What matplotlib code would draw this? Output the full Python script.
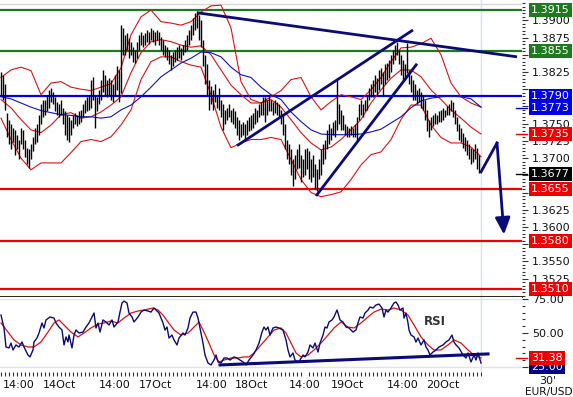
import numpy as np
import matplotlib
matplotlib.use('Agg')
import matplotlib.pyplot as plt
from matplotlib.ticker import MultipleLocator, FixedLocator, FuncFormatter
import matplotlib.transforms as mtransforms

# ---------------- data (EUR/USD 30') ----------------
highs = [
1.3825,1.3821,1.3807,1.3766,1.3756,1.3749,1.3744,1.3741,1.3734,1.3727,
1.3744,1.3741,1.3727,1.3715,1.3713,1.3720,1.3730,1.3744,1.3749,1.3763,
1.3778,1.3785,1.3785,1.3792,1.3799,1.3802,1.3796,1.3788,1.3782,1.3778,
1.3785,1.3773,1.3768,1.3763,1.3759,1.3756,1.3763,1.3766,1.3763,1.3768,
1.3770,1.3778,1.3785,1.3788,1.3792,1.3814,1.3818,1.3792,1.3788,1.3799,
1.3814,1.3828,1.3821,1.3814,1.3817,1.3814,1.3807,1.3821,1.3833,1.3828,
1.3893,1.3889,1.3879,1.3882,1.3875,1.3869,1.3862,1.3857,1.3869,1.3879,
1.3883,1.3879,1.3882,1.3886,1.3883,1.3889,1.3886,1.3883,1.3886,1.3883,
1.3876,1.3872,1.3864,1.3862,1.3857,1.3850,1.3854,1.3857,1.3862,1.3864,
1.3860,1.3864,1.3872,1.3879,1.3886,1.3893,1.3904,1.3911,1.3914,1.3908,
1.3901,1.3872,1.3850,1.3836,1.3814,1.3804,1.3799,1.3807,1.3792,1.3802,
1.3785,1.3778,1.3770,1.3773,1.3778,1.3770,1.3773,1.3768,1.3759,1.3756,
1.3749,1.3753,1.3749,1.3756,1.3759,1.3763,1.3766,1.3773,1.3770,1.3778,
1.3782,1.3788,1.3789,1.3785,1.3788,1.3785,1.3782,1.3785,1.3781,1.3778,
1.3770,1.3763,1.3749,1.3727,1.3720,1.3713,1.3698,1.3705,1.3713,1.3720,
1.3705,1.3698,1.3713,1.3715,1.3710,1.3698,1.3705,1.3691,1.3684,1.3698,
1.3713,1.3720,1.3727,1.3741,1.3749,1.3744,1.3753,1.3756,1.3814,1.3778,
1.3770,1.3763,1.3749,1.3746,1.3744,1.3747,1.3744,1.3749,1.3759,1.3778,
1.3785,1.3778,1.3785,1.3792,1.3802,1.3807,1.3814,1.3821,1.3817,1.3828,
1.3831,1.3825,1.3836,1.3838,1.3843,1.3850,1.3857,1.3864,1.3869,1.3857,
1.3850,1.3843,1.3836,1.3867,1.3828,1.3821,1.3814,1.3807,1.3799,1.3802,
1.3796,1.3792,1.3785,1.3770,1.3756,1.3759,1.3763,1.3766,1.3763,1.3768,
1.3770,1.3773,1.3770,1.3776,1.3779,1.3785,1.3782,1.3770,1.3759,1.3749,
1.3744,1.3737,1.3730,1.3727,1.3720,1.3715,1.3713,1.3720,1.3715,1.3705]
lows = [
1.3792,1.3785,1.3770,1.3731,1.3720,1.3713,1.3724,1.3705,1.3713,1.3698,
1.3720,1.3713,1.3701,1.3691,1.3686,1.3698,1.3710,1.3720,1.3724,1.3734,
1.3749,1.3759,1.3763,1.3768,1.3773,1.3782,1.3778,1.3768,1.3763,1.3759,
1.3763,1.3749,1.3734,1.3727,1.3723,1.3734,1.3744,1.3749,1.3747,1.3749,
1.3753,1.3759,1.3766,1.3768,1.3770,1.3773,1.3785,1.3744,1.3768,1.3778,
1.3785,1.3796,1.3792,1.3788,1.3792,1.3785,1.3781,1.3792,1.3799,1.3781,
1.3795,1.3850,1.3850,1.3857,1.3846,1.3850,1.3840,1.3838,1.3846,1.3857,
1.3864,1.3862,1.3864,1.3869,1.3866,1.3872,1.3869,1.3864,1.3872,1.3864,
1.3857,1.3850,1.3847,1.3843,1.3836,1.3828,1.3833,1.3840,1.3843,1.3846,
1.3843,1.3850,1.3854,1.3857,1.3864,1.3872,1.3879,1.3886,1.3889,1.3872,
1.3862,1.3833,1.3807,1.3792,1.3770,1.3778,1.3770,1.3781,1.3773,1.3770,
1.3760,1.3741,1.3749,1.3756,1.3759,1.3753,1.3749,1.3744,1.3734,1.3727,
1.3730,1.3734,1.3727,1.3734,1.3739,1.3741,1.3744,1.3750,1.3753,1.3759,
1.3763,1.3763,1.3753,1.3763,1.3768,1.3768,1.3763,1.3766,1.3763,1.3759,
1.3749,1.3734,1.3713,1.3698,1.3691,1.3676,1.3659,1.3669,1.3684,1.3686,
1.3665,1.3672,1.3676,1.3684,1.3669,1.3665,1.3672,1.3655,1.3652,1.3669,
1.3676,1.3691,1.3698,1.3713,1.3720,1.3727,1.3734,1.3730,1.3741,1.3749,
1.3741,1.3741,1.3734,1.3731,1.3731,1.3733,1.3730,1.3731,1.3727,1.3756,
1.3763,1.3760,1.3768,1.3770,1.3785,1.3788,1.3789,1.3796,1.3792,1.3799,
1.3807,1.3792,1.3807,1.3814,1.3817,1.3825,1.3836,1.3843,1.3850,1.3836,
1.3821,1.3814,1.3817,1.3824,1.3807,1.3796,1.3785,1.3785,1.3778,1.3781,
1.3773,1.3770,1.3756,1.3739,1.3731,1.3741,1.3746,1.3749,1.3749,1.3752,
1.3753,1.3756,1.3759,1.3762,1.3763,1.3768,1.3759,1.3749,1.3739,1.3727,
1.3724,1.3715,1.3710,1.3705,1.3698,1.3691,1.3695,1.3698,1.3684,1.3679]

band_x = list(range(0, 241, 5))
upper_band = [1.3817,1.3828,1.3832,1.3827,1.3792,1.3809,1.3811,1.3803,1.3800,1.3798,
              1.3803,1.3808,1.3831,1.3879,1.3905,1.3915,1.3898,1.3896,1.3893,1.3898,
              1.3912,1.3921,1.3922,1.3889,1.3811,1.3785,1.3780,1.3789,1.3798,1.3814,
              1.3817,1.3789,1.3770,1.3782,1.3792,1.3789,1.3785,1.3799,1.3817,1.3840,
              1.3860,1.3861,1.3866,1.3874,1.3850,1.3809,1.3789,1.3780,1.3774]
middle_band = [1.3785,1.3773,1.3756,1.3741,1.3737,1.3748,1.3763,1.3766,1.3758,1.3760,
               1.3767,1.3777,1.3789,1.3824,1.3853,1.3869,1.3872,1.3869,1.3864,1.3861,
               1.3863,1.3850,1.3828,1.3806,1.3792,1.3780,1.3780,1.3785,1.3774,1.3756,
               1.3737,1.3722,1.3712,1.3716,1.3727,1.3741,1.3756,1.3780,1.3799,1.3816,
               1.3828,1.3828,1.3818,1.3799,1.3785,1.3770,1.3758,1.3745,1.3735]
lower_band = [1.3758,1.3727,1.3700,1.3683,1.3693,1.3693,1.3693,1.3708,1.3724,1.3727,
              1.3724,1.3731,1.3748,1.3770,1.3814,1.3840,1.3847,1.3847,1.3840,1.3835,
              1.3832,1.3792,1.3745,1.3715,1.3722,1.3727,1.3727,1.3730,1.3727,1.3698,
              1.3669,1.3650,1.3644,1.3647,1.3651,1.3669,1.3690,1.3705,1.3709,1.3727,
              1.3756,1.3777,1.3777,1.3748,1.3730,1.3722,1.3722,1.3716,1.3702]
ma_blue = [1.3789,1.3786,1.3780,1.3774,1.3769,1.3766,1.3763,1.3762,1.3760,1.3760,
           1.3758,1.3760,1.3770,1.3777,1.3789,1.3803,1.3818,1.3828,1.3838,1.3845,
           1.3854,1.3853,1.3847,1.3832,1.3821,1.3817,1.3803,1.3792,1.3785,1.3767,
           1.3753,1.3741,1.3735,1.3734,1.3734,1.3734,1.3735,1.3738,1.3742,1.3751,
           1.3760,1.3773,1.3783,1.3787,1.3789,1.3790,1.3789,1.3786,1.3774]

green_levels = [1.3915, 1.3855]
blue_levels = [1.3790]
red_levels = [1.3655, 1.3580, 1.3510]
last_price = 1.3677
ma_last = 1.3773
mid_last = 1.3735

trend_down_x, trend_down_y = [98, 258], [1.3911, 1.3847]
chan_up_x, chan_up_y = [118, 206], [1.3718, 1.3886]
chan_lo_x, chan_lo_y = [157.5, 208], [1.3645, 1.3837]
fc_x, fc_y = [240, 248, 251.5], [1.3680, 1.3722, 1.3589]

rsi_x = [0,1.5,2.5,4,5,6,7.5,9,10.5,11.5,13.5,14.5,16,16.5,18,19,20.5,21.5,22.5,24.5,
         26.5,27.5,29,30.5,31.5,32.5,33.5,34,35.5,36.5,37.5,39,41,42.5,44,45.5,46.5,47.5,48.5,49.5,
         51,52.5,54,55.5,56.5,58.5,59.5,60.5,61.5,63,64,65.5,66.5,68.5,70,71.5,73.5,75,76.5,77.5,
         79,81,82,83,84,85.5,86.5,88,89,91,92,93.5,94.5,96,97.5,98.5,99.5,101,102,103.5,
         105,106.5,107.5,108.5,110,111.5,113,114.5,116.5,118,119.5,121,122.5,124,126,127.5,129,130.5,131.5,132.5,
         133.5,134.5,136,137.5,139,141,142.5,143.5,144.5,146,147,148.5,149.5,151,152,153.5,154.5,156,157,158.5,
         159.5,161,162,163,164,165.5,166.5,168,168.5,169.5,171,172.5,174,176,177.5,178.5,179.5,181,182,183.5,
         184.5,186,187.5,189,190.5,191.5,192.5,193.5,195,196.5,197.5,198.5,199.5,201,201.5,202.5,203.5,204,205,206.5,
         207.5,208.5,210,211.5,212.5,213.5,214.5,216,217.5,219,221,222.5,224,225.5,226.5,227.5,229,231,232.5,233.5,
         235,236.5,237.5,238.5,240]
rsi_val = [63.2,53.7,39.7,39.0,42.6,37.5,41.2,39.7,43.4,39.7,33.8,32.4,37.5,43.4,46.3,50.0,57.4,53.7,59.6,61.8,
           61.0,57.4,54.4,52.2,41.2,47.1,43.4,48.5,39.0,48.5,52.2,50.0,50.7,54.4,57.4,61.8,64.7,53.7,57.4,50.7,
           59.6,58.1,55.9,59.6,54.4,58.1,65.4,72.1,73.5,72.1,64.7,61.8,58.1,61.8,65.4,66.9,66.2,65.4,68.4,66.9,
           64.7,57.4,52.2,54.4,46.3,48.5,44.9,41.2,46.3,50.0,48.5,53.7,61.0,65.4,65.4,61.0,53.7,42.6,33.8,27.9,
           26.5,30.1,33.8,28.7,27.9,31.6,31.6,30.1,32.4,31.6,30.1,28.7,26.5,30.1,33.8,37.5,42.6,50.7,54.4,52.2,
           54.4,48.5,53.7,54.4,53.7,52.2,44.9,37.5,32.4,35.3,30.1,28.7,30.1,33.8,32.4,36.0,41.2,39.0,42.6,36.0,
           42.6,48.5,54.4,53.7,58.1,59.6,61.8,66.9,64.7,59.6,58.1,54.4,53.7,50.7,52.2,57.4,61.8,61.0,64.7,66.9,
           69.1,68.4,70.6,71.3,68.4,61.8,66.9,65.4,68.4,72.1,72.8,70.6,66.9,68.4,61.0,64.7,57.4,52.2,48.5,47.1,
           43.4,46.3,41.2,44.9,39.7,37.5,33.8,36.0,37.5,39.7,41.2,43.4,44.9,48.5,43.4,41.2,39.0,33.8,31.6,35.3,
           28.7,33.8,30.1,35.3,27.9]
sig_x = [0,3.5,6.5,10,13.5,16.5,20,23.5,26.5,29,31.5,35,38.5,41.5,45,48.5,51.5,55,58.5,61.5,
         65,68.5,71.5,76,78.5,81,83.5,86.5,90,93.5,96.5,99,101.5,104,106.5,109,111.5,115,118.5,121.5,
         124,126.5,130,133.5,136.5,140,142.5,145,147.5,150,153.5,156.5,160,163.5,166.5,170,173.5,176.5,180,183.5,
         186.5,190,193.5,196.5,200,203.5,206.5,210,213.5,216.5,220,223.5,226.5,230,233.5,236.5,240]
sig_val = [57.4,50.7,44.9,41.2,39.7,39.7,43.4,50.7,57.4,59.6,55.9,50.7,47.1,50.0,53.7,56.6,57.4,58.8,57.4,61.0,
           64.7,66.2,66.9,68.4,66.9,63.2,58.1,52.2,48.5,50.0,54.4,58.1,50.7,42.6,33.8,28.7,30.1,31.6,31.6,32.4,
           32.4,35.3,41.2,47.1,52.2,53.7,50.0,42.6,35.3,32.4,33.8,37.5,42.6,48.5,53.7,58.1,54.4,53.7,57.4,61.8,
           65.4,67.6,66.9,68.4,66.9,63.2,55.9,47.1,41.2,37.5,37.5,41.2,44.9,42.6,37.5,33.8,31.6]
rsi_trend_x, rsi_trend_y = [109.5, 243.5], [26.5, 34.6]
rsi_last = 31.38
rsi_ticks = [25, 50, 75]

time_pos = [9, 29.5, 57, 77.5, 105.5, 125.5, 152, 173.5, 201, 221]
time_labels = ['14:00', '14Oct', '14:00', '17Oct', '14:00', '18Oct', '14:00', '19Oct', '14:00', '20Oct']

# ---------------- styles ----------------
GREEN = '#1f7a1f'
BLUE = '#0000e6'
RED = '#ee0000'
NAVY = '#0a0a78'
BAND = '#dd1111'

W, H = 573, 397
fig = plt.figure(figsize=(W / 100, H / 100), dpi=100)
fig.patch.set_facecolor('white')
axw = 522 / W
ax = fig.add_axes([0, (H - 297) / H, axw, 297 / H])
ax2 = fig.add_axes([0, (H - 372) / H, axw, 75 / H])

xlim = (-0.5, 260.5)
x = np.arange(len(highs))

# ---------- price panel ----------
ax.set_xlim(*xlim)
ax.set_ylim(1.34984, 1.39295)
ax.axhline(1.3924, color='#d9d9d9', lw=1.0, zorder=1)
ax.axvline(240, color='#d5e3ef', lw=1.0, zorder=1)

for lv in green_levels:
    ax.axhline(lv, color=GREEN, lw=1.6, zorder=2)
for lv in blue_levels:
    ax.axhline(lv, color=BLUE, lw=1.6, zorder=2)
for lv in red_levels:
    ax.axhline(lv, color=RED, lw=1.6, zorder=2)

ax.plot(band_x, upper_band, color=BAND, lw=0.8, zorder=3)
ax.plot(band_x, middle_band, color=BAND, lw=0.8, zorder=3)
ax.plot(band_x, lower_band, color=BAND, lw=0.8, zorder=3)
ax.plot(band_x, ma_blue, color='#1010cc', lw=0.8, zorder=3)

ax.vlines(x, lows, highs, color='black', lw=1.0, zorder=4)

for tx, ty in [(trend_down_x, trend_down_y), (chan_up_x, chan_up_y), (chan_lo_x, chan_lo_y)]:
    ax.plot(tx, ty, color=NAVY, lw=2.0, solid_capstyle='butt', zorder=5)
ax.plot(fc_x[:2], fc_y[:2], color=NAVY, lw=2.0, zorder=5)
ax.annotate('', xy=(fc_x[2], fc_y[2]), xytext=(fc_x[1], fc_y[1]),
            arrowprops=dict(arrowstyle='-|>,head_length=1.0,head_width=0.45',
                            color=NAVY, lw=2.0, shrinkA=0, shrinkB=0), zorder=5)

for sp in ['top', 'left', 'right']:
    ax.spines[sp].set_visible(False)
ax.spines['bottom'].set_color('black')
ax.spines['bottom'].set_linewidth(1.2)
ax.tick_params(axis='x', which='both', bottom=False, labelbottom=False)
ax.yaxis.tick_right()

boxed_values = green_levels + blue_levels + [ma_last, mid_last, last_price] + red_levels
hidden_labels = [1.3800]


def price_fmt(v, pos):
    # labels (almost) covered by the coloured value boxes are left blank
    if min(abs(v - b) for b in boxed_values) < 0.00065:
        return ''
    if any(abs(v - h) < 1e-6 for h in hidden_labels):
        return ''
    return f'{v:.4f}'


ax.yaxis.set_major_locator(FixedLocator(np.round(np.arange(1.3525, 1.39001, 0.0025), 4)))
ax.yaxis.set_major_formatter(FuncFormatter(price_fmt))
ax.yaxis.set_minor_locator(MultipleLocator(0.0005))
ax.tick_params(axis='y', which='major', length=4, width=0.8, color='#333333',
               labelsize=8, pad=3, labelcolor='#111111')
ax.tick_params(axis='y', which='minor', length=2.5, width=0.8, color='#333333')

trans = mtransforms.blended_transform_factory(ax.transAxes, ax.transData)
lab_x = 531 / 522


def box(a, tr, yv, txt, fc):
    a.text(lab_x, yv, txt, transform=tr, ha='left', va='center', fontsize=8,
           color='white', zorder=20, clip_on=False,
           bbox=dict(boxstyle='square,pad=0.18', fc=fc, ec='none'))


# short indicator markers at right edge
for yv, col in [(ma_last, BLUE), (mid_last, RED), (last_price, 'black')]:
    ax.plot([257.5, 263], [yv, yv], color=col, lw=1.0, clip_on=False, zorder=6)

for lv in green_levels:
    box(ax, trans, lv, f'{lv:.4f}', GREEN)
box(ax, trans, blue_levels[0], f'{blue_levels[0]:.4f}', BLUE)
box(ax, trans, ma_last, f'{ma_last:.4f}', BLUE)
box(ax, trans, mid_last, f'{mid_last:.4f}', RED)
box(ax, trans, last_price, f'{last_price:.4f}', 'black')
for lv in red_levels:
    box(ax, trans, lv, f'{lv:.4f}', RED)

# ---------- RSI panel ----------
ax2.set_xlim(*xlim)
ax2.set_ylim(21.3, 76.5)
ax2.axhline(75, color='#dfe5ec', lw=1.0, zorder=1)
ax2.axhline(25, color='#dfe5ec', lw=1.0, zorder=1)
ax2.axvline(240, color='#d5e3ef', lw=1.0, zorder=1)
ax2.plot(sig_x, sig_val, color=BAND, lw=0.9, zorder=3)
ax2.plot(rsi_x, rsi_val, color=NAVY, lw=1.0, zorder=4)
ax2.plot(rsi_trend_x, rsi_trend_y, color=NAVY, lw=2.2, zorder=5)
ax2.text(217, 58.8, 'RSI', fontsize=8.5, fontweight='bold', color='#333333',
         ha='center', va='center')

for sp in ['top', 'left', 'right', 'bottom']:
    ax2.spines[sp].set_visible(False)
ax2.yaxis.tick_right()
ax2.yaxis.set_major_locator(FixedLocator(rsi_ticks))
ax2.yaxis.set_major_formatter(FuncFormatter(lambda v, p: '' if v == 25 else f'{v:.2f}'))
ax2.yaxis.set_minor_locator(MultipleLocator(5))
ax2.tick_params(axis='y', which='major', length=4, width=0.8, color='#333333',
                labelsize=8, pad=3, labelcolor='#111111')
ax2.tick_params(axis='y', which='minor', length=2.5, width=0.8, color='#333333')

ax2.xaxis.set_major_locator(FixedLocator(time_pos))
ax2.set_xticklabels(time_labels)
ax2.xaxis.set_minor_locator(FixedLocator(np.arange(0, 241, 2)))
ax2.tick_params(axis='x', which='major', length=0, labelsize=8, pad=6, labelcolor='#111111')
ax2.tick_params(axis='x', which='minor', length=3, width=0.8, color='#333333')

trans2 = mtransforms.blended_transform_factory(ax2.transAxes, ax2.transData)
box(ax2, trans2, 25, '25.00', '#000080')
ax2.plot([257.5, 263], [rsi_last, rsi_last], color=RED, lw=1.0, clip_on=False, zorder=6)
box(ax2, trans2, rsi_last, f'{rsi_last:.2f}', RED)

fig.text(548 / W, 1 - 381 / H, "30'", ha='center', va='center', fontsize=8, color='#111111')
fig.text(525 / W, 1 - 392 / H, 'EUR/USD', ha='left', va='center', fontsize=7.6, color='#111111')

fig.savefig('out.png', dpi=100, facecolor='white')
